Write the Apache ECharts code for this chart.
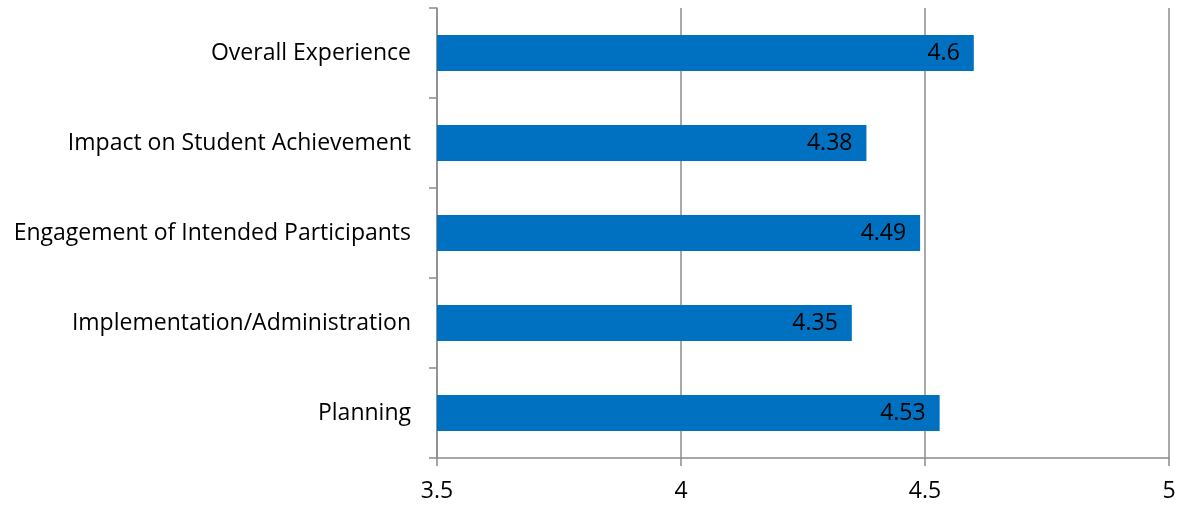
<!DOCTYPE html>
<html>
<head>
<meta charset="utf-8">
<script src="https://cdn.jsdelivr.net/npm/echarts@6/dist/echarts.min.js"></script>
<style>
  html, body { margin: 0; padding: 0; background: #fff; }
  #chart { width: 1179px; height: 506px; }
</style>
</head>
<body>
<div id="chart"></div>
<script>
// categories listed bottom to top
var categories = ['Planning', 'Implementation/Administration', 'Engagement of Intended Participants', 'Impact on Student Achievement', 'Overall Experience'];
var scores = [4.53, 4.35, 4.49, 4.38, 4.6];
var xTicks = { min: 3.5, max: 5, step: 0.5 };

var myChart = echarts.init(document.getElementById('chart'));
var fontName = 'Open Sans';

myChart.setOption({
  animation: false,
  grid: { left: 437, right: 10, top: 8, bottom: 48 },
  xAxis: {
    type: 'value',
    min: xTicks.min,
    max: xTicks.max,
    interval: xTicks.step,
    axisLine: { show: true, lineStyle: { color: '#8c8c8c', width: 1.5 } },
    axisTick: { show: true, length: 8, lineStyle: { color: '#8c8c8c', width: 1.5 } },
    splitLine: { show: true, lineStyle: { color: '#8c8c8c', width: 1.5 } },
    axisLabel: { color: '#000', fontFamily: fontName, fontSize: 23, margin: 22 }
  },
  yAxis: {
    type: 'category',
    data: categories,
    axisLine: { show: true, lineStyle: { color: '#8c8c8c', width: 1.5 } },
    axisTick: { show: true, length: 8, lineStyle: { color: '#8c8c8c', width: 1.5 } },
    axisLabel: { color: '#000', fontFamily: fontName, fontSize: 23, margin: 26 }
  },
  series: [{
    type: 'bar',
    data: scores,
    barWidth: 36,
    itemStyle: { color: '#0070C0' },
    label: {
      show: true,
      position: 'insideRight',
      distance: 14,
      color: '#000',
      fontFamily: fontName,
      fontSize: 23
    }
  }]
});
</script>
</body>
</html>
